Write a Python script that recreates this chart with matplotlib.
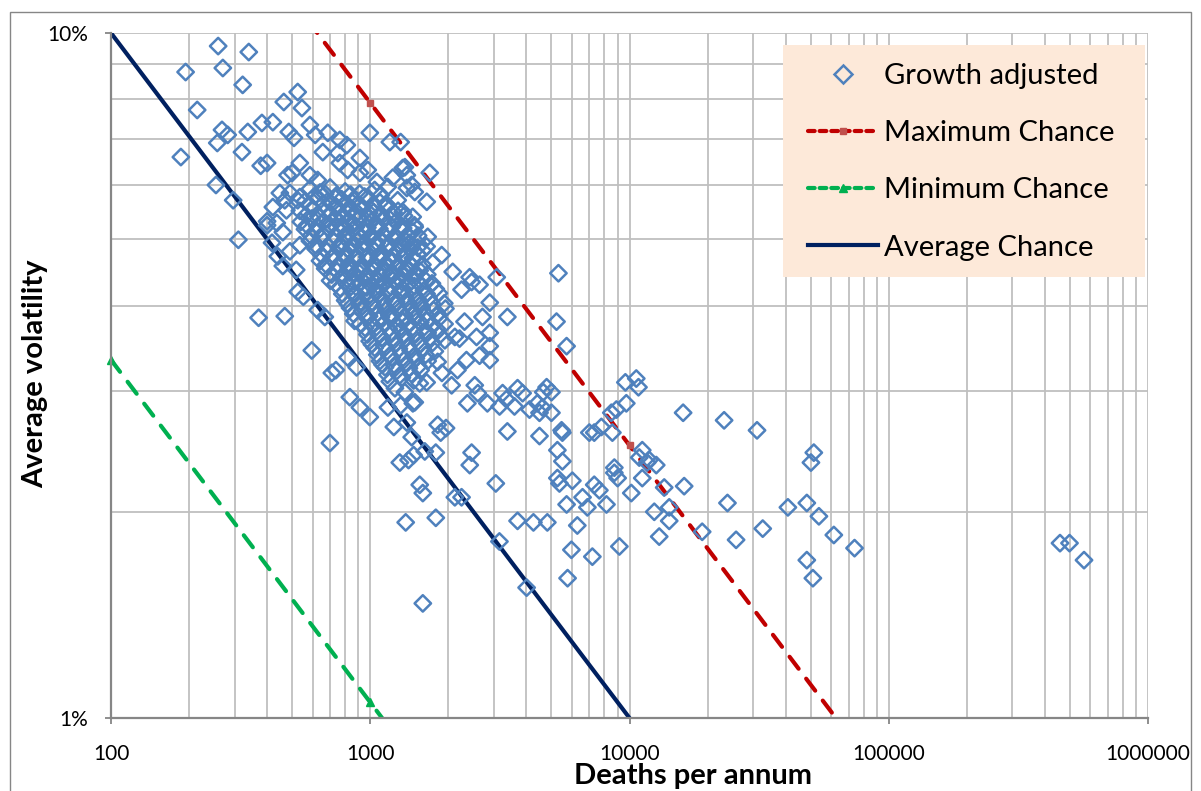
import matplotlib
matplotlib.use("Agg")
import matplotlib.pyplot as plt
from matplotlib.ticker import FixedLocator, NullFormatter, LogLocator, FuncFormatter
from matplotlib.patches import Rectangle
from matplotlib.lines import Line2D

plt.rcParams['font.family'] = ['Lato', 'DejaVu Sans']

BLUE = '#4F81BD'
NAVY = '#002060'
RED = '#C00000'
GREEN = '#00B050'
GRID = '#BFBFBF'
AXIS = '#868686'

# growth adjusted events: deaths per annum / average volatility in %
# outer points, upper left
deaths_outer = [259, 340, 194, 270, 322, 215, 464, 525, 545, 268, 282, 337, 382,
                421, 485, 508, 257, 320, 186, 378, 400, 254, 296, 310, 400, 371,
                468, 595, 699, 480, 500, 448, 468, 525, 421, 475, 400, 436]
vol_outer = [9.57, 9.38, 8.77, 8.89, 8.40, 7.72, 7.93, 8.20, 7.77, 7.22, 7.10, 7.17, 7.39,
             7.41, 7.17, 7.03, 6.91, 6.70, 6.59, 6.40, 6.46, 6.00, 5.70, 4.99, 5.24, 3.84,
             3.86, 3.44, 2.52, 6.20, 6.25, 5.84, 5.70, 5.70, 5.57, 5.51, 5.31, 5.28]

# upper edge of the main cloud
deaths_upper = [585, 613, 686, 763, 812, 656, 750, 912, 996, 1190, 535, 585, 627,
                763, 818, 912, 978, 1061, 1168, 1222, 1335, 1384, 1445, 1485, 1276,
                1160, 1335, 1458, 490, 535, 1310, 1360, 1696, 1384, 1652, 1485, 1666,
                1420, 1524, 1886, 1742, 1384, 1552, 2418, 3075, 5320]
vol_upper = [7.34, 7.10, 7.15, 6.98, 6.86, 6.70, 6.68, 6.57, 7.15, 6.93, 6.46, 6.20, 6.10,
             6.46, 6.31, 6.25, 6.31, 6.06, 5.96, 6.15, 6.35, 6.20, 6.00, 5.86, 5.70,
             5.61, 5.48, 5.39, 5.84, 5.76, 6.93, 6.37, 6.25, 5.94, 5.67, 5.21, 5.04,
             4.94, 4.86, 4.74, 4.62, 4.54, 4.50, 4.40, 4.40, 4.46]

# right flank of the cloud
deaths_flank = [2080, 2460, 2250, 2640, 2890, 3380, 2710, 2890, 2310, 2120, 2570, 2890,
                2640, 2890, 2350, 2170, 1890, 2060, 1650, 1552, 1460, 1820, 2530, 2600,
                2370, 2830, 3240, 3350, 3700, 3870, 3154, 3600, 4114, 4410, 4790, 5000,
                4496, 1820, 1384, 5230, 5720]
vol_flank = [4.48, 4.33, 4.22, 4.29, 4.04, 3.85, 3.85, 3.65, 3.79, 3.60, 3.60, 3.49,
             3.38, 3.33, 3.33, 3.22, 3.19, 3.06, 3.09, 3.08, 2.88, 3.31, 3.06, 2.98,
             2.88, 2.88, 2.98, 2.92, 3.03, 2.98, 2.85, 2.85, 2.82, 2.88, 3.04, 2.99,
             2.79, 2.68, 2.70, 3.79, 3.49]

# larger events
deaths_right = [4650, 4620, 5000, 5470, 5510, 7000, 7310, 7790, 8510, 8590, 8900, 9720,
                9640, 10620, 10830, 16100, 23170, 31040, 5270, 5510, 11200, 10908, 11920,
                12680, 8740, 5270, 5368, 6020, 5720, 4820, 6590, 6880, 7310, 7652, 6290,
                8150, 8740, 9000, 10160, 11700, 11200, 13610, 16250, 14230, 12460, 14230,
                13020, 19070, 23870, 25770, 5970, 7190, 9140, 5770, 40830, 48300, 53780,
                32650, 61400, 73800, 48300, 50970, 51400, 50100, 457700, 498000, 566500]
vol_right = [2.99, 2.84, 2.79, 2.63, 2.61, 2.61, 2.61, 2.66, 2.79, 2.61, 2.82, 2.88,
             3.09, 3.13, 3.04, 2.79, 2.72, 2.63, 2.46, 2.37, 2.46, 2.40, 2.38,
             2.34, 2.32, 2.24, 2.20, 2.22, 2.05, 1.93, 2.10, 2.03, 2.19, 2.15, 1.91,
             2.05, 2.28, 2.24, 2.13, 2.36, 2.24, 2.17, 2.18, 2.03, 2.00, 1.94,
             1.84, 1.87, 2.06, 1.82, 1.76, 1.72, 1.78, 1.60, 2.03, 2.06, 1.97,
             1.89, 1.85, 1.77, 1.70, 1.60, 2.44, 2.36, 1.80, 1.80, 1.70]

# lower side of the cloud, along the average line
deaths_lower = [4010, 3150, 1595, 3700, 4260, 1370, 1790, 2120, 2250, 3050, 1790, 1870,
                1960, 2420, 2460, 1552, 1595, 1405, 1300, 1470, 1170, 1310, 1485, 834,
                912, 996, 711, 737, 818, 886, 525, 552, 627, 668, 460, 518, 418, 440,
                490, 535, 460, 1445, 1623, 1233, 3380, 4496]
vol_lower = [1.55, 1.81, 1.47, 1.94, 1.93, 1.93, 1.96, 2.10, 2.10, 2.20, 2.44, 2.61,
             2.65, 2.34, 2.44, 2.19, 2.13, 2.38, 2.36, 2.42, 2.84, 2.86, 2.89, 2.94,
             2.84, 2.75, 3.19, 3.22, 3.36, 3.25, 4.19, 4.12, 3.94, 3.85, 4.57, 4.51, 4.94, 4.72,
             4.80, 4.90, 5.12, 2.57, 2.45, 2.66, 2.62, 2.58]

# dense core, one list per volatility band
deaths_core = [
    [585, 640, 700, 800, 910, 1040],
    [610, 670, 740, 840, 950, 1100],
    [560, 630, 700, 775, 870, 980, 1090],
    [585, 660, 735, 815, 915, 1030, 1150],
    [535, 600, 670, 745, 835, 930, 1030, 1150, 1280],
    [565, 630, 705, 785, 880, 980, 1090, 1215, 1350],
    [760, 820, 890, 990, 1100, 1230],
    [540, 595, 660, 735, 820, 910, 1015, 1130, 1255],
    [570, 625, 695, 775, 865, 960, 1070, 1190, 1320, 1480],
    [740, 800, 880, 975, 1085, 1210, 1340],
    [560, 620, 690, 770, 855, 955, 1060, 1180, 1310, 1460],
    [590, 655, 730, 810, 900, 1005, 1120, 1245, 1390, 1530],
    [585, 650, 725, 805, 895, 995, 1110, 1235, 1370],
    [780, 860, 950, 1060, 1180, 1320, 1420],
    [615, 685, 765, 850, 945, 1050, 1170, 1300, 1450, 1650],
    [615, 680, 760, 840, 935, 1040, 1160, 1290, 1430, 1595],
    [650, 720, 800, 885, 985, 1095, 1220, 1360, 1520],
    [800, 880, 975, 1080, 1200, 1330, 1460],
    [640, 710, 790, 880, 980, 1090, 1210, 1350, 1500],
    [675, 750, 830, 925, 1030, 1150, 1280, 1420, 1590],
    [670, 745, 825, 920, 1025, 1140, 1265, 1410],
    [830, 910, 1000, 1110, 1230, 1370, 1500],
    [710, 785, 870, 970, 1080, 1200, 1335, 1485, 1660],
    [700, 775, 865, 960, 1070, 1190, 1325, 1470, 1640],
    [735, 815, 910, 1010, 1125, 1255, 1395, 1550, 1730],
    [880, 970, 1080, 1200, 1330, 1480],
    [765, 850, 945, 1050, 1170, 1300, 1445, 1610, 1790],
    [780, 870, 965, 1075, 1195, 1330, 1480, 1650, 1840],
    [800, 885, 985, 1100, 1220, 1360, 1510, 1680],
    [920, 1020, 1130, 1260, 1400, 1550],
    [820, 910, 1015, 1130, 1255, 1400, 1560, 1735, 1930],
    [835, 930, 1035, 1150, 1275, 1420, 1580, 1755, 1950],
    [860, 960, 1065, 1185, 1320, 1470, 1635, 1820],
    [990, 1100, 1220, 1360, 1500],
    [870, 970, 1080, 1200, 1335, 1485, 1650, 1840],
    [915, 1015, 1130, 1260, 1400, 1560, 1735, 1935],
    [955, 1060, 1180, 1310, 1460, 1620, 1805],
    [975, 1085, 1210, 1345, 1495, 1665, 1850],
    [995, 1110, 1235, 1370, 1525, 1700, 1940, 2210],
    [1015, 1130, 1260, 1400, 1560, 1740],
    [1040, 1160, 1290, 1430, 1595, 1775],
    [1065, 1185, 1320, 1470, 1635],
    [1090, 1210, 1350, 1500, 1665],
    [1115, 1240, 1380, 1535],
    [1140, 1265, 1410, 1565],
    [1165, 1295, 1440],
    [1190, 1325, 1470],
    [1245, 1360],
]
vol_core = [
    [5.92, 5.85, 5.95, 5.87, 5.83, 5.90],
    [5.78, 5.82, 5.79, 5.81, 5.77, 5.80],
    [5.68, 5.74, 5.66, 5.72, 5.69, 5.75, 5.66],
    [5.60, 5.63, 5.59, 5.62, 5.61, 5.58, 5.63],
    [5.50, 5.55, 5.49, 5.56, 5.51, 5.54, 5.48, 5.57, 5.50],
    [5.42, 5.40, 5.44, 5.41, 5.43, 5.40, 5.44, 5.42, 5.41],
    [5.46, 5.45, 5.47, 5.46, 5.44, 5.47],
    [5.30, 5.36, 5.31, 5.35, 5.29, 5.37, 5.32, 5.34, 5.30],
    [5.24, 5.22, 5.25, 5.23, 5.26, 5.22, 5.24, 5.25, 5.23, 5.24],
    [5.20, 5.19, 5.21, 5.20, 5.18, 5.21, 5.19],
    [5.17, 5.12, 5.18, 5.13, 5.16, 5.11, 5.19, 5.14, 5.17, 5.13],
    [5.06, 5.08, 5.05, 5.07, 5.09, 5.06, 5.08, 5.05, 5.07, 5.06],
    [4.97, 5.02, 4.96, 5.01, 4.98, 5.03, 4.95, 5.00, 4.97],
    [4.94, 4.93, 4.95, 4.94, 4.92, 4.95, 4.93],
    [4.90, 4.89, 4.91, 4.88, 4.92, 4.90, 4.89, 4.91, 4.90, 4.88],
    [4.84, 4.80, 4.85, 4.79, 4.83, 4.81, 4.86, 4.79, 4.83, 4.81],
    [4.74, 4.73, 4.75, 4.72, 4.74, 4.76, 4.73, 4.74, 4.75],
    [4.70, 4.69, 4.71, 4.70, 4.68, 4.71, 4.69],
    [4.65, 4.69, 4.64, 4.70, 4.66, 4.68, 4.63, 4.69, 4.66],
    [4.59, 4.58, 4.60, 4.57, 4.59, 4.61, 4.58, 4.60, 4.59],
    [4.53, 4.49, 4.54, 4.50, 4.52, 4.48, 4.55, 4.50],
    [4.47, 4.46, 4.48, 4.47, 4.45, 4.48, 4.46],
    [4.44, 4.43, 4.45, 4.42, 4.44, 4.46, 4.43, 4.45, 4.44],
    [4.35, 4.39, 4.34, 4.38, 4.36, 4.40, 4.33, 4.38, 4.35],
    [4.30, 4.29, 4.31, 4.28, 4.30, 4.32, 4.29, 4.30, 4.31],
    [4.26, 4.25, 4.27, 4.26, 4.24, 4.27],
    [4.24, 4.20, 4.25, 4.21, 4.23, 4.19, 4.24, 4.21, 4.23],
    [4.16, 4.15, 4.17, 4.14, 4.16, 4.18, 4.15, 4.16, 4.17],
    [4.07, 4.11, 4.08, 4.10, 4.06, 4.12, 4.08, 4.10],
    [4.05, 4.04, 4.06, 4.05, 4.03, 4.06],
    [4.02, 4.01, 4.03, 4.00, 4.02, 4.04, 4.01, 4.02, 4.03],
    [3.97, 3.93, 3.98, 3.94, 3.96, 3.92, 3.97, 3.94, 3.96],
    [3.89, 3.88, 3.90, 3.87, 3.89, 3.91, 3.88, 3.89],
    [3.86, 3.85, 3.87, 3.86, 3.84],
    [3.80, 3.84, 3.81, 3.83, 3.79, 3.84, 3.80, 3.83],
    [3.76, 3.75, 3.77, 3.74, 3.76, 3.78, 3.75, 3.76],
    [3.71, 3.67, 3.70, 3.68, 3.72, 3.67, 3.70],
    [3.63, 3.62, 3.64, 3.61, 3.63, 3.65, 3.62],
    [3.55, 3.59, 3.56, 3.58, 3.54, 3.59, 3.56, 3.58],
    [3.51, 3.50, 3.52, 3.49, 3.51, 3.53],
    [3.47, 3.43, 3.46, 3.44, 3.47, 3.43],
    [3.39, 3.38, 3.40, 3.37, 3.39],
    [3.32, 3.36, 3.33, 3.35, 3.32],
    [3.28, 3.27, 3.29, 3.26],
    [3.25, 3.21, 3.24, 3.22],
    [3.17, 3.16, 3.18],
    [3.10, 3.14, 3.11],
    [3.03, 2.99],
]

# chance lines (volatility in % at each decade of deaths)
line_deaths = [100, 1000, 10000, 100000, 1000000]
max_chance = [25.0, 7.906, 2.5, 0.791, 0.25]
min_chance = [3.333, 1.054, 0.333, 0.105, 0.033]
avg_chance = [10.0, 3.162, 1.0, 0.316, 0.1]

x_ticks = [100, 1000, 10000, 100000, 1000000]
y_ticks = [1, 10]

deaths = deaths_outer + deaths_upper + deaths_flank + deaths_right + deaths_lower
vol = vol_outer + vol_upper + vol_flank + vol_right + vol_lower
for d_row, v_row in zip(deaths_core, vol_core):
    deaths += d_row
    vol += v_row

fig = plt.figure(figsize=(12.01, 7.91), dpi=100)
ax = fig.add_axes([111 / 1201, 1 - 718 / 791, 1037 / 1201, 685 / 791])
ax.set_xscale('log')
ax.set_yscale('log')
ax.set_xlim(100, 1000000)
ax.set_ylim(1, 10)

ax.xaxis.set_major_locator(FixedLocator(x_ticks))
ax.xaxis.set_major_formatter(FuncFormatter(lambda v, p: '%d' % round(v)))
ax.xaxis.set_minor_locator(LogLocator(base=10, subs=range(2, 10)))
ax.xaxis.set_minor_formatter(NullFormatter())
ax.yaxis.set_major_locator(FixedLocator(y_ticks))
ax.yaxis.set_major_formatter(FuncFormatter(lambda v, p: '%d%%' % round(v)))
ax.yaxis.set_minor_locator(LogLocator(base=10, subs=range(2, 10)))
ax.yaxis.set_minor_formatter(NullFormatter())

ax.grid(which='both', color=GRID, lw=1.3, zorder=0)
ax.set_axisbelow(True)
ax.tick_params(which='major', length=4.5, width=1.3, color=AXIS, labelsize=15)
ax.tick_params(axis='x', which='major', pad=14)
ax.tick_params(axis='y', which='major', pad=12)
ax.tick_params(which='minor', length=0)
for side in ['top', 'right']:
    ax.spines[side].set_visible(False)
for side in ['left', 'bottom']:
    ax.spines[side].set_color(AXIS)
    ax.spines[side].set_linewidth(1.6)

# chance lines
ax.plot(line_deaths, avg_chance, color=NAVY, lw=3, zorder=2, solid_capstyle='butt')
ax.plot(line_deaths, max_chance, color=RED, lw=3, dashes=(3.6, 3.0),
        dash_capstyle='round', zorder=2)
ax.plot(line_deaths, min_chance, color=GREEN, lw=3, dashes=(3.6, 3.0),
        dash_capstyle='round', zorder=2)

def in_view(xs, ys):
    pts = [(x, y) for x, y in zip(xs, ys) if 100 <= x <= 1000000 and 1 <= y <= 10]
    return [p[0] for p in pts], [p[1] for p in pts]

mx, my = in_view(line_deaths, max_chance)
ax.plot(mx, my, ls='none', marker='s', ms=4.5, color='#C0504D', zorder=2, clip_on=False)
gx, gy = in_view(line_deaths, min_chance)
ax.plot(gx, gy, ls='none', marker='^', ms=5.5, color=GREEN, zorder=2, clip_on=False)

ax.scatter(deaths, vol, marker='D', s=70, facecolors='none', edgecolors=BLUE,
           linewidths=1.8, zorder=3)

fig.text(693 / 1201, 1 - 776 / 791, 'Deaths per annum', ha='center', va='center',
         fontsize=21, fontweight='bold')
fig.text(35 / 1201, 1 - 374 / 791, 'Average volatility', ha='center', va='center',
         rotation=90, fontsize=21, fontweight='bold')

# legend panel
fig.patches.append(Rectangle((783 / 1201, 1 - 277 / 791), 362 / 1201, 232 / 791,
                             transform=fig.transFigure, facecolor='#FDE9D9',
                             edgecolor='none', zorder=1))
handles = [
    Line2D([], [], ls='none', marker='D', ms=9, mfc='none', mec=BLUE, mew=1.8),
    Line2D([], [], color=RED, lw=3, dashes=(1.6, 1.2), dash_capstyle='round',
           marker='s', ms=4.5, mfc='#C0504D', mec='#C0504D'),
    Line2D([], [], color=GREEN, lw=3, dashes=(1.6, 1.2), dash_capstyle='round',
           marker='^', ms=5.5, mfc=GREEN, mec=GREEN),
    Line2D([], [], color=NAVY, lw=3),
]
labels = ['Growth adjusted', 'Maximum Chance', 'Minimum Chance', 'Average Chance']
fig.legend(handles, labels, loc='upper left',
           bbox_to_anchor=(808 / 1201, 1 - 63 / 791), bbox_transform=fig.transFigure,
           frameon=False, fontsize=21, borderpad=0, borderaxespad=0,
           handlelength=2.4, handletextpad=0.2, labelspacing=1.07)

# chart border
fig.patches.append(Rectangle((10 / 1201, -0.01), 1181 / 1201, 1 - 12 / 791 + 0.01,
                             transform=fig.transFigure, facecolor='none',
                             edgecolor=AXIS, lw=1.0, zorder=2))

fig.savefig('out.png', dpi=100)
